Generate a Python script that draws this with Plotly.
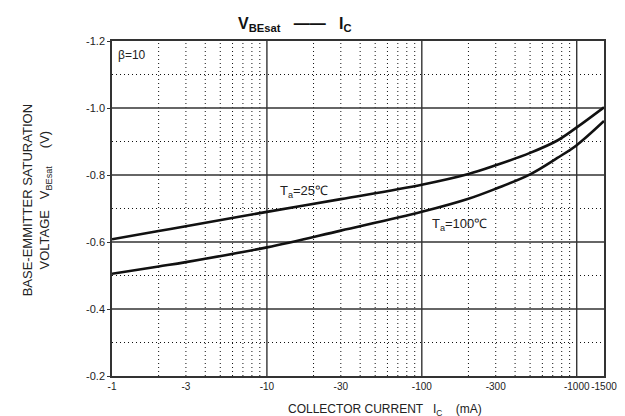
import math
import plotly.graph_objects as go

# Data (|I_C| in mA, V_BEsat in V)
ic_25 = [1, 2, 3, 10, 30, 100, 200, 300, 500, 750, 1000, 1500]
vbe_25 = [-0.608, -0.633, -0.647, -0.690, -0.728, -0.771, -0.803, -0.829, -0.866, -0.903, -0.942, -1.002]
ic_100 = [1, 2, 3, 10, 30, 100, 200, 300, 500, 750, 1000, 1500]
vbe_100 = [-0.505, -0.527, -0.540, -0.584, -0.634, -0.690, -0.729, -0.759, -0.802, -0.851, -0.889, -0.961]

x_tickvals = [1, 3, 10, 30, 100, 300, 1000, 1500]
x_ticktext = ["-1", "-3", "-10", "-30", "-100", "-300", "-1000", "-1500"]
y_tickvals = [-1.2, -1.0, -0.8, -0.6, -0.4, -0.2]
y_ticktext = ["-1.2", "-1.0", "-0.8", "-0.6", "-0.4", "-0.2"]

x_major = [10, 100, 1000]
x_minor = [m * d for d in (1, 10, 100) for m in range(2, 10)]
y_major = [-1.0, -0.8, -0.6, -0.4]
y_minor = [-1.1, -0.9, -0.7, -0.5, -0.3]

label_25 = (11.8, -0.752)
label_100 = (113, -0.651)

FONT = "Liberation Sans, Arial, sans-serif"

fig = go.Figure()
for xs, ys in ((ic_25, vbe_25), (ic_100, vbe_100)):
    fig.add_trace(go.Scatter(x=xs, y=ys, mode="lines",
                             line=dict(color="#111", width=2.6, shape="spline", smoothing=1.0),
                             showlegend=False, hoverinfo="skip"))

shapes = []
for xv in x_minor:
    shapes.append(dict(type="line", xref="x", yref="paper", x0=xv, x1=xv, y0=0, y1=1,
                       line=dict(color="#111", width=1, dash="1px,3px"), layer="below"))
for yv in y_minor:
    shapes.append(dict(type="line", xref="paper", yref="y", x0=0, x1=1, y0=yv, y1=yv,
                       line=dict(color="#111", width=1, dash="1px,3px"), layer="below"))
for xv in x_major:
    shapes.append(dict(type="line", xref="x", yref="paper", x0=xv, x1=xv, y0=0, y1=1,
                       line=dict(color="#333", width=1.4), layer="below"))
for yv in y_major:
    shapes.append(dict(type="line", xref="paper", yref="y", x0=0, x1=1, y0=yv, y1=yv,
                       line=dict(color="#333", width=1.4), layer="below"))

annotations = [
    dict(text="<b>V<sub>BEsat</sub>   ——   I<sub>C</sub></b>", xref="paper", yref="paper",
         x=0.372, y=1.05, xanchor="center", yanchor="middle",
         showarrow=False, font=dict(size=16, color="#111", family=FONT)),
    dict(text="β=10", xref="paper", yref="paper", x=0.008, y=0.985, xanchor="left", yanchor="top",
         showarrow=False, font=dict(size=12, color="#222", family=FONT)),
    dict(text="T<sub>a</sub>=25℃", xref="x", yref="y", x=math.log10(label_25[0]), y=label_25[1],
         xanchor="left", yanchor="middle",
         showarrow=False, font=dict(size=13, color="#222", family=FONT)),
    dict(text="T<sub>a</sub>=100℃", xref="x", yref="y", x=math.log10(label_100[0]), y=label_100[1],
         xanchor="left", yanchor="middle",
         showarrow=False, font=dict(size=13, color="#222", family=FONT)),
    dict(text="COLLECTOR CURRENT   I<sub>C</sub>    (mA)", xref="paper", yref="paper",
         x=0.555, y=-0.1, xanchor="center", yanchor="middle",
         showarrow=False, font=dict(size=12, color="#222", family=FONT)),
    dict(text="BASE-EMMITTER SATURATION<br>VOLTAGE   V<sub>BEsat</sub>     (V)", xref="paper", yref="paper",
         x=-0.152, y=0.525, xanchor="center", yanchor="middle", textangle=-90,
         showarrow=False, font=dict(size=13, color="#222", family=FONT)),
]

fig.update_layout(
    width=625, height=416,
    margin=dict(l=104, r=29, t=33, b=48),
    paper_bgcolor="white", plot_bgcolor="white",
    font=dict(family=FONT, size=10, color="#222"),
    shapes=shapes, annotations=annotations,
    xaxis=dict(type="log", range=[0, math.log10(1500)], tickvals=x_tickvals, ticktext=x_ticktext,
               tickangle=0, showgrid=False, zeroline=False, showline=True, linecolor="#333",
               linewidth=1.5, mirror=True, ticks="", tickfont=dict(size=10, color="#222")),
    yaxis=dict(range=[-0.2, -1.2], tickvals=y_tickvals, ticktext=y_ticktext,
               showgrid=False, zeroline=False, showline=True, linecolor="#333", linewidth=1.5,
               mirror=True, ticks="outside", ticklen=3, tickcolor="#333",
               tickfont=dict(size=11, color="#222")),
)

fig.write_html("out.html")
